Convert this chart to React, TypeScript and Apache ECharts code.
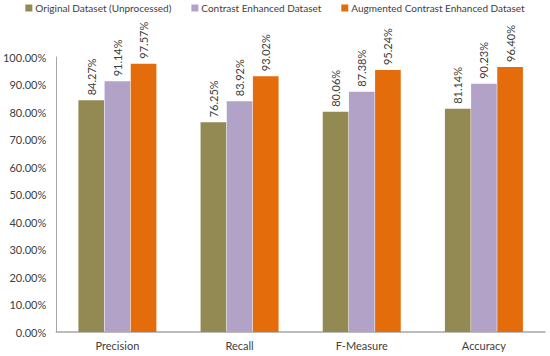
import React, { useEffect, useRef } from "react";
import * as echarts from "echarts";

const categories = ["Precision", "Recall", "F-Measure", "Accuracy"];
const seriesNames = [
  "Original Dataset (Unprocessed)",
  "Contrast Enhanced Dataset",
  "Augmented Contrast Enhanced Dataset",
];
const original = [0.8427, 0.7625, 0.8006, 0.8114];
const contrast = [0.9114, 0.8392, 0.8738, 0.9023];
const augmented = [0.9757, 0.9302, 0.9524, 0.964];
const colors = ["#938953", "#B3A2C7", "#E46C0A"];

const font = "Lato, 'Noto Sans', sans-serif";

export default function App() {
  const ref = useRef<HTMLDivElement>(null);
  useEffect(() => {
    if (!ref.current) return;
    const chart = echarts.init(ref.current, undefined, { renderer: "svg" });
    const data = [original, contrast, augmented];
    chart.setOption({
      animation: false,
      backgroundColor: "#ffffff",
      textStyle: { fontFamily: font },
      legend: {
        top: 3,
        left: "center",
        width: 548,
        padding: 0,
        itemWidth: 7,
        itemHeight: 7,
        itemGap: 20,
        icon: "rect",
        textStyle: { fontSize: 10, color: "#404040", fontFamily: font, padding: [0, 0, 0, -2] },
        data: seriesNames,
      },
      grid: { left: 55, right: 5, top: 57, bottom: 24, containLabel: false },
      xAxis: {
        type: "category",
        data: categories,
        axisLine: { lineStyle: { color: "#A6A6A6", width: 1.5 } },
        axisTick: { show: false },
        axisLabel: { fontSize: 11, color: "#404040", margin: 8, fontFamily: font },
      },
      yAxis: {
        type: "value",
        min: 0,
        max: 1,
        interval: 0.1,
        splitLine: { show: false },
        axisLine: { show: true, lineStyle: { color: "#A6A6A6", width: 1 } },
        axisTick: { show: false },
        axisLabel: {
          fontSize: 11,
          color: "#404040",
          margin: 10,
          fontFamily: font,
          formatter: (v: number) => (v * 100).toFixed(2) + "%",
        },
      },
      series: seriesNames.map((name, i) => ({
        name,
        type: "bar",
        data: data[i],
        itemStyle: { color: colors[i] },
        barWidth: "21%",
        barGap: "2%",
        label: {
          show: true,
          position: "top",
          rotate: 90,
          align: "left",
          verticalAlign: "middle",
          distance: 5,
          fontSize: 11,
          color: "#404040",
          fontFamily: font,
          formatter: (p: any) => (p.value * 100).toFixed(2) + "%",
        },
      })),
    });
    return () => chart.dispose();
  }, []);
  return (
    <div
      ref={ref}
      style={{ position: "absolute", left: 0, top: 0, width: 550, height: 356 }}
    />
  );
}
